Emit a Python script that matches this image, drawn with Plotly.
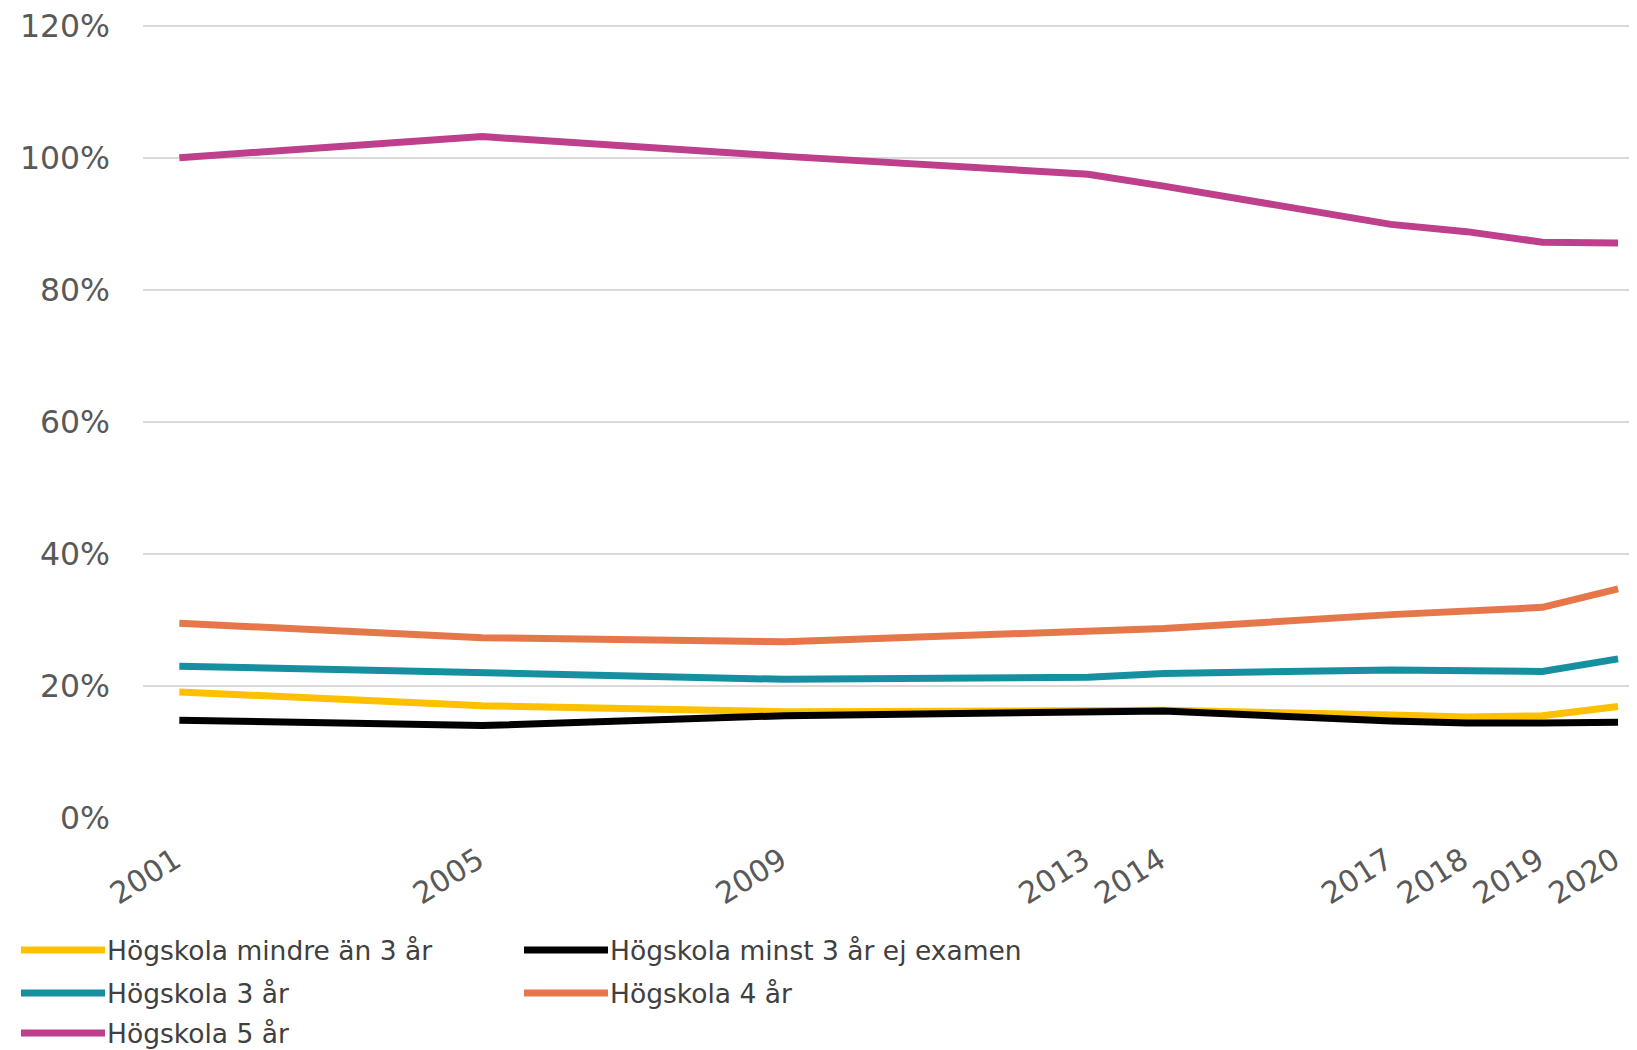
import plotly.graph_objects as go

# Data
years = [2001, 2005, 2009, 2013, 2014, 2017, 2018, 2019, 2020]

mindre_an_3 = [19.1, 17.0, 16.1, 16.2, 16.3, 15.6, 15.3, 15.5, 16.9]
minst_3_ej_examen = [14.8, 14.0, 15.5, 16.1, 16.2, 14.7, 14.4, 14.4, 14.5]
hogskola_3 = [23.0, 22.1, 21.0, 21.3, 21.9, 22.4, 22.2, 22.2, 24.1]
hogskola_4 = [29.5, 27.3, 26.7, 28.1, 28.7, 30.8, 31.4, 31.9, 34.7]
hogskola_5 = [100.0, 103.2, 100.2, 97.5, 95.7, 89.9, 88.8, 87.2, 87.1]

series = [
    ("Högskola mindre än 3 år", mindre_an_3, "#FFC000"),
    ("Högskola minst 3 år ej examen", minst_3_ej_examen, "#000000"),
    ("Högskola 3 år", hogskola_3, "#1690A0"),
    ("Högskola 4 år", hogskola_4, "#E5774A"),
    ("Högskola 5 år", hogskola_5, "#BE3F8C"),
]

# page has an 8px body margin, so the figure is a bit smaller than the window
OFF = 8
W, H = 1637 - OFF, 1050 - OFF
left, right, top, bottom = 143 - OFF, 0, 23 - OFF, 232
plot_w = W - left - right
plot_h = H - top - bottom

FONT = "DejaVu Sans"

fig = go.Figure()

for name, vals, color in series:
    fig.add_trace(go.Scatter(
        x=years, y=vals, name=name, mode="lines",
        line=dict(color=color, width=7),
        showlegend=False,
    ))

# manual legend: two columns, like the original (page pixel positions)
def px_to_paper_x(px):
    return (px - OFF - left) / plot_w

def px_to_paper_y(py):
    return (H - bottom - (py - OFF)) / plot_h

col_x = [21, 524]
row_y = [950, 993, 1033]
for i, (name, vals, color) in enumerate(series):
    cx = col_x[i % 2]
    ry = row_y[i // 2]
    fig.add_shape(
        type="line", xref="paper", yref="paper",
        x0=px_to_paper_x(cx), x1=px_to_paper_x(cx + 84),
        y0=px_to_paper_y(ry), y1=px_to_paper_y(ry),
        line=dict(color=color, width=7),
    )
    fig.add_annotation(
        xref="paper", yref="paper",
        x=px_to_paper_x(cx + 84), y=px_to_paper_y(ry),
        xanchor="left", yanchor="middle",
        text=name, showarrow=False,
        font=dict(family=FONT, size=26.5, color="#404040"),
    )

fig.update_layout(
    width=W, height=H,
    margin=dict(l=left, r=right, t=top, b=bottom),
    paper_bgcolor="white",
    plot_bgcolor="white",
    font=dict(family=FONT, color="#595959"),
)

fig.update_xaxes(
    range=[2000.52, 2020.25],
    tickmode="array", tickvals=years, ticktext=[str(y) for y in years],
    tickangle=-32,
    tickfont=dict(size=30, color="#595959"),
    ticklabelstandoff=18,
    ticklabelshift=-4,
    ticklabeloverflow="allow",
    showgrid=False, zeroline=False, showline=False,
    automargin=False,
)

fig.update_yaxes(
    range=[0, 120.4],
    tickmode="array", tickvals=[0, 20, 40, 60, 80, 100, 120],
    ticktext=["0%", "20%", "40%", "60%", "80%", "100%", "120%"],
    tickfont=dict(size=31.5, color="#595959"),
    ticklabelstandoff=32,
    ticklabeloverflow="allow",
    showgrid=True, gridcolor="#D9D9D9", gridwidth=2,
    zeroline=False, showline=False,
    automargin=False,
)

fig.write_html("out.html")
